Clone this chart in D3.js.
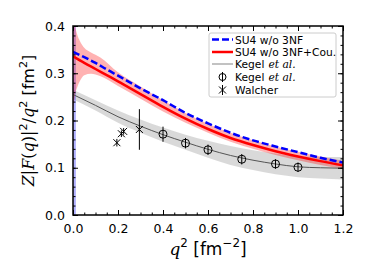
<!DOCTYPE html>
<html>
<head>
<meta charset="utf-8">
<script src="https://cdn.jsdelivr.net/npm/d3@7"></script>
<style>
  body { margin: 0; background: #fff; }
  text { font-family: "DejaVu Sans", sans-serif; }
</style>
</head>
<body>
<div id="chart"></div>
<script>
// ---- data ----
var q_grid = [0, 0.05, 0.1, 0.15, 0.2, 0.3, 0.4, 0.5, 0.6, 0.7, 0.8, 0.9, 1.0, 1.1, 1.2];
var su4_vals = [0.345, 0.334, 0.322, 0.308, 0.295, 0.268, 0.243, 0.216, 0.194, 0.174, 0.158, 0.145, 0.133, 0.121, 0.111];
var su4_cou_vals = [0.336, 0.322, 0.309, 0.296, 0.283, 0.256, 0.229, 0.204, 0.182, 0.163, 0.148, 0.135, 0.124, 0.114, 0.105];

// red band (3NF+Cou. uncertainty)
var band_q = [0, 0.005, 0.01, 0.02, 0.03, 0.05, 0.08, 0.12, 0.2, 0.3, 0.4, 0.5, 0.6, 0.7, 0.8, 0.9, 1.0, 1.1, 1.2];
var cou_lo = [0.222, 0.24, 0.256, 0.272, 0.283, 0.296, 0.299, 0.294, 0.273, 0.246, 0.219, 0.195, 0.174, 0.155, 0.140, 0.127, 0.116, 0.106, 0.098];
var cou_hi = [0.43, 0.42, 0.40, 0.38, 0.369, 0.354, 0.344, 0.334, 0.302, 0.272, 0.243, 0.216, 0.193, 0.174, 0.158, 0.145, 0.134, 0.124, 0.115];

// blue band (only visible as a strip at q=0)
var blue_band_q = [0, 0.013];
var blue_lo = [0, 0];
var blue_hi = [0.42, 0.42];

// Kegel et al. fit + band
var kegel_q = [0, 0.1, 0.2, 0.3, 0.4, 0.5, 0.6, 0.7, 0.8, 0.9, 1.0, 1.1, 1.2];
var kegel_fit = [0.255, 0.232, 0.208, 0.188, 0.170, 0.154, 0.139, 0.126, 0.116, 0.108, 0.102, 0.100, 0.099];
var kegel_err = [0.010, 0.011, 0.013, 0.014, 0.015, 0.016, 0.018, 0.020, 0.021, 0.022, 0.022, 0.023, 0.024];

// Kegel et al. points
var kpts_q = [0.4, 0.5, 0.6, 0.75, 0.9, 1.0];
var kpts_v = [0.171, 0.152, 0.138, 0.118, 0.108, 0.101];
var kpts_e = [0.016, 0.011, 0.011, 0.011, 0.010, 0.010];

// Walcher points
var walcher_q = [0.195, 0.215, 0.225, 0.295];
var walcher_v = [0.153, 0.172, 0.177, 0.181];
var walcher_e = [0.008, 0.007, 0.007, 0.043];

var x_ticks = [0, 0.2, 0.4, 0.6, 0.8, 1.0, 1.2];
var y_ticks = [0, 0.1, 0.2, 0.3, 0.4];

// ---- layout ----
const width = 374, height = 280;
const margin = {left: 73, right: 31, top: 26, bottom: 65};
const pw = width - margin.left - margin.right;
const ph = height - margin.top - margin.bottom;

var svg = d3.select('#chart').append('svg')
  .attr('width', width)
  .attr('height', height);

var x = d3.scaleLinear().domain([0, 1.2]).range([0, pw]);
var y = d3.scaleLinear().domain([0, 0.4]).range([ph, 0]);

svg.append('defs').append('clipPath').attr('id', 'clip')
  .append('rect').attr('width', pw).attr('height', ph);

var g = svg.append('g').attr('transform', `translate(${margin.left},${margin.top})`);
var plot = g.append('g').attr('clip-path', 'url(#clip)');

function zip(qs, a, b) {
  return qs.map(function(q, i){ return {q: q, a: a[i], b: b ? b[i] : null}; });
}

var area = d3.area().x(d => x(d.q)).y0(d => y(d.a)).y1(d => y(d.b));
var smooth_area = d3.area().curve(d3.curveMonotoneX).x(d => x(d.q)).y0(d => y(d.a)).y1(d => y(d.b));
var line = d3.line().curve(d3.curveMonotoneX).x(d => x(d.q)).y(d => y(d.a));

// grey band
plot.append('path')
  .datum(kegel_q.map((q, i) => ({q: q, a: kegel_fit[i] - kegel_err[i], b: kegel_fit[i] + kegel_err[i]})))
  .attr('d', smooth_area)
  .attr('fill', '#808080').attr('fill-opacity', 0.3);

// blue band
plot.append('path')
  .datum(zip(blue_band_q, blue_lo, blue_hi))
  .attr('d', area)
  .attr('fill', 'blue').attr('fill-opacity', 0.3);

// red band
plot.append('path')
  .datum(zip(band_q, cou_lo, cou_hi))
  .attr('d', smooth_area)
  .attr('fill', 'red').attr('fill-opacity', 0.3);

// grey fit line
plot.append('path')
  .datum(zip(kegel_q, kegel_fit))
  .attr('d', line)
  .attr('fill', 'none').attr('stroke', '#555').attr('stroke-width', 1);

// red line
plot.append('path')
  .datum(zip(q_grid, su4_cou_vals))
  .attr('d', line)
  .attr('fill', 'none').attr('stroke', 'red').attr('stroke-width', 2.5);

// blue dashed
plot.append('path')
  .datum(zip(q_grid, su4_vals))
  .attr('d', line)
  .attr('fill', 'none').attr('stroke', 'blue').attr('stroke-width', 2.5)
  .attr('stroke-dasharray', '7,3');

// Kegel points
var kp = g.append('g').selectAll('g').data(zip(kpts_q, kpts_v, kpts_e)).join('g')
  .attr('transform', d => `translate(${x(d.q)},${y(d.a)})`);
kp.append('line')
  .attr('y1', d => y(d.a - d.b) - y(d.a)).attr('y2', d => y(d.a + d.b) - y(d.a))
  .attr('stroke', 'black').attr('stroke-width', 1);
kp.append('circle').attr('r', 4)
  .attr('fill', 'none').attr('stroke', 'black').attr('stroke-width', 1);

// Walcher points
var wp = g.append('g').selectAll('g').data(zip(walcher_q, walcher_v, walcher_e)).join('g')
  .attr('transform', d => `translate(${x(d.q)},${y(d.a)})`);
wp.append('line')
  .attr('y1', d => y(d.a - d.b) - y(d.a)).attr('y2', d => y(d.a + d.b) - y(d.a))
  .attr('stroke', 'black').attr('stroke-width', 1);
wp.append('path').attr('d', 'M-3.5,-3.5L3.5,3.5M-3.5,3.5L3.5,-3.5')
  .attr('stroke', 'black').attr('stroke-width', 1);

// ---- axes ----
function minor(lo, hi, step) {
  var out = [];
  for (var i = 0; lo + i * step <= hi + 1e-9; i++) out.push(+(lo + i * step).toFixed(4));
  return out;
}
var x_minor = minor(0, 1.2, 0.05);
var y_minor = minor(0, 0.4, 0.02);

function tick_style(sel) {
  sel.select('.domain').remove();
  sel.selectAll('line').attr('stroke', 'black').attr('stroke-width', 1);
  sel.selectAll('text').attr('font-size', 12.5).attr('fill', 'black')
    .style('font-family', '"DejaVu Sans", sans-serif');
}

g.append('g').attr('transform', `translate(0,${ph})`)
  .call(d3.axisBottom(x).tickValues(x_minor).tickSize(-2.5).tickFormat(''))
  .call(tick_style);
g.append('g').attr('transform', `translate(0,${ph})`)
  .call(d3.axisBottom(x).tickValues(x_ticks).tickSize(-5).tickPadding(9).tickFormat(d3.format('.1f')))
  .call(tick_style);
g.append('g')
  .call(d3.axisTop(x).tickValues(x_minor).tickSize(-2.5).tickFormat(''))
  .call(tick_style);
g.append('g')
  .call(d3.axisTop(x).tickValues(x_ticks).tickSize(-5).tickFormat(''))
  .call(tick_style);

g.append('g')
  .call(d3.axisLeft(y).tickValues(y_minor).tickSize(-2.5).tickFormat(''))
  .call(tick_style);
g.append('g')
  .call(d3.axisLeft(y).tickValues(y_ticks).tickSize(-5).tickPadding(8).tickFormat(d3.format('.1f')))
  .call(tick_style);
g.append('g').attr('transform', `translate(${pw},0)`)
  .call(d3.axisRight(y).tickValues(y_minor).tickSize(-2.5).tickFormat(''))
  .call(tick_style);
g.append('g').attr('transform', `translate(${pw},0)`)
  .call(d3.axisRight(y).tickValues(y_ticks).tickSize(-5).tickFormat(''))
  .call(tick_style);

// frame
g.append('rect').attr('width', pw).attr('height', ph)
  .attr('fill', 'none').attr('stroke', 'black').attr('stroke-width', 1.5);

// ---- axis labels ----
function rich(textSel, parts, size) {
  parts.forEach(function(p) {
    var t = textSel.append('tspan').text(p.t);
    if (p.it) t.style('font-family', '"DejaVu Serif", serif').style('font-style', 'italic');
    if (p.serif) t.style('font-family', '"DejaVu Serif", serif');
    if (p.sup) t.attr('dy', -size * 0.45).attr('font-size', size * 0.7);
    if (p.down) t.attr('dy', size * 0.45);
  });
}

var xl = svg.append('text')
  .attr('x', margin.left + pw / 2).attr('y', 255)
  .attr('text-anchor', 'middle').attr('font-size', 17);
rich(xl, [
  {t: 'q', it: true}, {t: '2', sup: true}, {t: '\u00a0[fm', down: true},
  {t: '\u22122', sup: true}, {t: ']', down: true}
], 17);

var yl = svg.append('text')
  .attr('transform', `translate(34,${margin.top + ph / 2}) rotate(-90)`)
  .attr('text-anchor', 'middle').attr('font-size', 16);
rich(yl, [
  {t: 'Z', it: true}, {t: '|', serif: true}, {t: 'F', it: true}, {t: '(', serif: true},
  {t: 'q', it: true}, {t: ')|', serif: true}, {t: '2', sup: true},
  {t: '/', serif: true, down: true}, {t: 'q', it: true}, {t: '2', sup: true},
  {t: '\u00a0[fm', down: true}, {t: '2', sup: true}, {t: ']', down: true}
], 16);

// ---- legend ----
var legend_labels = ['SU4 w/o 3NF', 'SU4 w/o 3NF+Cou.', 'Kegel et al.', 'Kegel et al.', 'Walcher'];
var leg = svg.append('g').attr('transform', 'translate(209,33)');
leg.append('rect').attr('width', 127).attr('height', 64).attr('rx', 2)
  .attr('fill', 'white').attr('fill-opacity', 0.8)
  .attr('stroke', '#ccc').attr('stroke-width', 1);

var row_y = [6.5, 19, 31, 44, 57];
legend_labels.forEach(function(lab, i) {
  var r = leg.append('g').attr('transform', `translate(0,${row_y[i]})`);
  if (i === 0) r.append('line').attr('x1', 3).attr('x2', 24)
    .attr('stroke', 'blue').attr('stroke-width', 2.5).attr('stroke-dasharray', '7,3');
  if (i === 1) r.append('line').attr('x1', 3).attr('x2', 24)
    .attr('stroke', 'red').attr('stroke-width', 2.5);
  if (i === 2) r.append('line').attr('x1', 3).attr('x2', 24)
    .attr('stroke', '#999').attr('stroke-width', 1.2);
  if (i === 3) {
    r.append('line').attr('x1', 13.5).attr('x2', 13.5).attr('y1', -5).attr('y2', 5).attr('stroke', 'black');
    r.append('circle').attr('cx', 13.5).attr('r', 3.5).attr('fill', 'none').attr('stroke', 'black');
  }
  if (i === 4) {
    r.append('line').attr('x1', 13.5).attr('x2', 13.5).attr('y1', -5).attr('y2', 5).attr('stroke', 'black');
    r.append('path').attr('d', 'M10,-3.5L17,3.5M10,3.5L17,-3.5').attr('stroke', 'black');
  }
  var parts = lab.split(' et al.');
  var t = r.append('text').attr('x', 26).attr('y', 4).attr('font-size', 10.7).attr('fill', 'black')
    .text(parts[0]);
  if (parts.length > 1) {
    var w = t.node().getComputedTextLength();
    r.append('text').attr('x', 26 + w + 4).attr('y', 4).attr('font-size', 10.7).attr('fill', 'black')
      .style('font-family', '"DejaVu Serif", serif').style('font-style', 'italic')
      .text('et al.');
  }
});
</script>
</body>
</html>
